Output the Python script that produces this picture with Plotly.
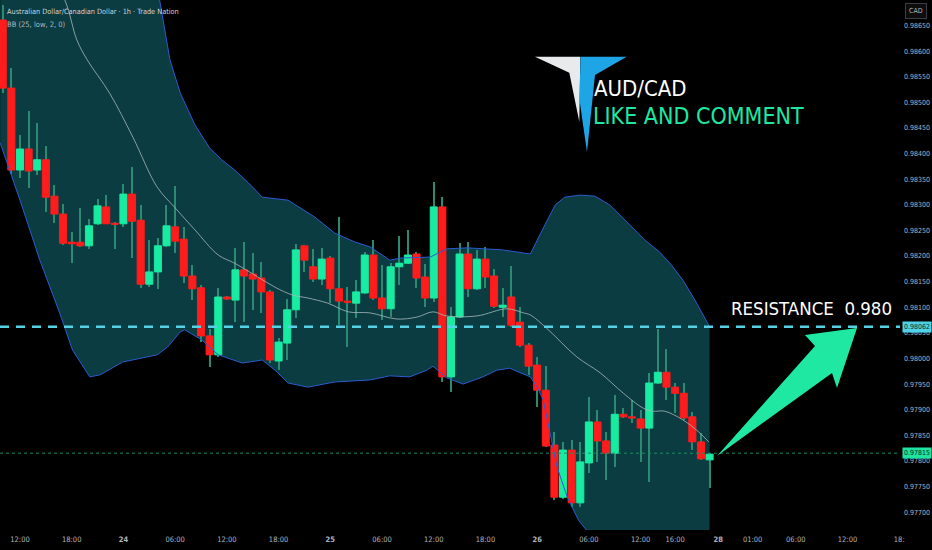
import plotly.graph_objects as go

# bar index = hours counted from the 23rd 00:00, weekend gap removed
hours = list(range(10, 93))
opens = [0.98661, 0.98528, 0.98368, 0.98409, 0.98368, 0.98388, 0.98317, 0.98282, 0.98227, 0.98227,
         0.98220, 0.98263, 0.98296, 0.98264, 0.98263, 0.98321, 0.98270, 0.98145, 0.98169, 0.98220,
         0.98257, 0.98233, 0.98161, 0.98138, 0.98044, 0.98007, 0.98120, 0.98114, 0.98173, 0.98165,
         0.98157, 0.98130, 0.97995, 0.98030, 0.98095, 0.98220, 0.98179, 0.98155, 0.98196, 0.98136,
         0.98112, 0.98108, 0.98128, 0.98202, 0.98118, 0.98097, 0.98179, 0.98186, 0.98204, 0.98159,
         0.98118, 0.98296, 0.97964, 0.98081, 0.98204, 0.98136, 0.98194, 0.98161, 0.98100, 0.98120,
         0.98071, 0.98026, 0.97987, 0.97938, 0.97831, 0.97729, 0.97821, 0.97718, 0.97796, 0.97876,
         0.97839, 0.97815, 0.97891, 0.97886, 0.97882, 0.97864, 0.97952, 0.97973, 0.97944, 0.97932,
         0.97886, 0.97837, 0.97802]
highs = [0.98690, 0.98567, 0.98436, 0.98483, 0.98460, 0.98415, 0.98339, 0.98302, 0.98247, 0.98294,
         0.98272, 0.98311, 0.98319, 0.98267, 0.98341, 0.98374, 0.98300, 0.98231, 0.98235, 0.98300,
         0.98337, 0.98257, 0.98182, 0.98143, 0.98057, 0.98138, 0.98122, 0.98216, 0.98227, 0.98206,
         0.98188, 0.98133, 0.98040, 0.98116, 0.98223, 0.98222, 0.98214, 0.98216, 0.98200, 0.98276,
         0.98140, 0.98153, 0.98208, 0.98231, 0.98182, 0.98186, 0.98239, 0.98251, 0.98208, 0.98184,
         0.98345, 0.98315, 0.98100, 0.98225, 0.98227, 0.98212, 0.98218, 0.98175, 0.98138, 0.98180,
         0.98100, 0.98030, 0.98003, 0.97985, 0.97856, 0.97837, 0.97841, 0.97837, 0.97925, 0.97899,
         0.97856, 0.97929, 0.97903, 0.97919, 0.97899, 0.97972, 0.98057, 0.98018, 0.97952, 0.97952,
         0.97895, 0.97854, 0.97815]
lows = [0.98518, 0.98360, 0.98352, 0.98333, 0.98358, 0.98286, 0.98264, 0.98222, 0.98186, 0.98218,
        0.98214, 0.98261, 0.98262, 0.98214, 0.98257, 0.98196, 0.98138, 0.98140, 0.98136, 0.98218,
        0.98206, 0.98147, 0.98114, 0.98032, 0.97983, 0.98003, 0.98114, 0.98071, 0.98071, 0.98095,
        0.98089, 0.97991, 0.97977, 0.97997, 0.98079, 0.98169, 0.98149, 0.98143, 0.98108, 0.98065,
        0.98022, 0.98079, 0.98126, 0.98114, 0.98075, 0.98081, 0.98143, 0.98184, 0.98138, 0.98100,
        0.98110, 0.97954, 0.97934, 0.98079, 0.98120, 0.98134, 0.98138, 0.98098, 0.98081, 0.98061,
        0.98022, 0.97968, 0.97905, 0.97827, 0.97724, 0.97725, 0.97710, 0.97710, 0.97776, 0.97798,
        0.97763, 0.97788, 0.97884, 0.97874, 0.97798, 0.97759, 0.97950, 0.97919, 0.97893, 0.97880,
        0.97821, 0.97802, 0.97747]
closes = [0.98528, 0.98368, 0.98409, 0.98366, 0.98388, 0.98315, 0.98282, 0.98225, 0.98224, 0.98220,
          0.98259, 0.98298, 0.98263, 0.98262, 0.98321, 0.98268, 0.98145, 0.98169, 0.98220, 0.98259,
          0.98229, 0.98161, 0.98136, 0.98044, 0.98007, 0.98120, 0.98116, 0.98173, 0.98161, 0.98155,
          0.98130, 0.97997, 0.98032, 0.98095, 0.98212, 0.98192, 0.98155, 0.98194, 0.98136, 0.98112,
          0.98110, 0.98130, 0.98202, 0.98118, 0.98097, 0.98179, 0.98186, 0.98202, 0.98157, 0.98118,
          0.98296, 0.97964, 0.98081, 0.98204, 0.98136, 0.98194, 0.98159, 0.98102, 0.98104, 0.98065,
          0.98026, 0.97985, 0.97938, 0.97829, 0.97729, 0.97821, 0.97718, 0.97798, 0.97876, 0.97839,
          0.97815, 0.97891, 0.97886, 0.97884, 0.97864, 0.97952, 0.97973, 0.97944, 0.97932, 0.97884,
          0.97837, 0.97804, 0.97813]

# Bollinger bands (25, low, 2)
bb_up_t = [9.7, 16, 22, 26, 28.2, 29.4, 30.6, 32.3, 34.0, 35.4, 36.9, 38.5, 40.1, 43.1, 46.2, 48.5,
           50.9, 52.6, 54.0, 54.9, 56.1, 59.6, 61.5, 63.9, 68.0, 71.2, 72.9, 74.1, 75.2, 77.0, 78.7,
           80.4, 82.2, 84.5, 86.2, 87.6, 88.9, 90.3, 92]
bb_up = [0.9905, 0.9893, 0.9881, 0.9874, 0.98700, 0.98583, 0.98518, 0.98456, 0.98411, 0.98388,
         0.98368, 0.98343, 0.98315, 0.98309, 0.98276, 0.98245, 0.98227, 0.98218, 0.98202, 0.98192,
         0.98196, 0.98198, 0.98214, 0.98216, 0.98212, 0.98204, 0.98261, 0.98300, 0.98315, 0.98319,
         0.98317, 0.98300, 0.98270, 0.98231, 0.98208, 0.98182, 0.98153, 0.98114, 0.98062]
bb_lo_t = [9.7, 12.0, 14.3, 16.6, 18.1, 20.1, 21.3, 23.9, 27.9, 29.1, 30.6, 31.1, 33.1, 35.0, 37.8,
           40.1, 41.6, 43.1, 45.4, 48.5, 52.6, 54.9, 57.2, 59.2, 59.9, 61.5, 63.4, 65.7, 67.3, 68.8,
           71.2, 72.0, 72.7, 73.5, 74.3, 75.5, 76.2, 76.8, 77.7, 80, 85, 92]
bb_lo = [0.98421, 0.98309, 0.98192, 0.98089, 0.98016, 0.97964, 0.97968, 0.97993, 0.98007, 0.98022,
         0.98052, 0.98056, 0.98036, 0.98007, 0.97991, 0.97997, 0.97977, 0.97952, 0.97944, 0.97954,
         0.97958, 0.97966, 0.97964, 0.97977, 0.97985, 0.97962, 0.97950, 0.97964, 0.97977, 0.97981,
         0.97964, 0.97944, 0.97919, 0.97854, 0.97788, 0.97729, 0.97704, 0.97684, 0.97665, 0.9764,
         0.9762, 0.9763]
bb_mid_t = [9.7, 14, 17.2, 18.6, 19.8, 22.4, 25.1, 27.9, 30.0, 32.3, 35.0, 36.9, 39.6, 41.6, 43.6,
            45.4, 47.7, 50.1, 52.6, 55.7, 58.1, 59.9, 61.5, 65.0, 68.5, 70.4, 71.2, 73.1, 76.6,
            79.3, 82.0, 84.3, 85.4, 86.8, 88.9, 90.5, 91.9]
bb_mid = [0.9890, 0.9880, 0.98700, 0.98622, 0.98583, 0.98518, 0.98432, 0.98335, 0.98294, 0.98251,
          0.98202, 0.98186, 0.98159, 0.98139, 0.98124, 0.98118, 0.98108, 0.98091, 0.98089, 0.98077,
          0.98081, 0.98091, 0.98083, 0.98083, 0.98097, 0.98089, 0.98085, 0.98059, 0.98003, 0.97972,
          0.97932, 0.97903, 0.97897, 0.97897, 0.97880, 0.97860, 0.97837]

time_ticks = [12, 18, 24, 30, 36, 42, 48, 54, 60, 66, 72, 78, 84, 88, 93, 97, 102, 108, 114]
time_labels = ["12:00", "18:00", "<b>24</b>", "06:00", "12:00", "18:00", "<b>25</b>", "06:00",
               "12:00", "18:00", "<b>26</b>", "06:00", "12:00", "16:00", "<b>28</b>", "01:00",
               "06:00", "12:00", "18:"]
price_ticks = [0.97700, 0.97750, 0.97800, 0.97850, 0.97900, 0.97950, 0.98000, 0.98050, 0.98100,
               0.98150, 0.98200, 0.98250, 0.98300, 0.98350, 0.98400, 0.98450, 0.98500, 0.98550,
               0.98600, 0.98650]

resistance = 0.98062
last_price = 0.97815

GREEN = "#18eba2"
RED = "#ff1c1c"
WICK = "#2a8a72"
NARROW = "Liberation Sans Narrow, DejaVu Sans Condensed, Liberation Sans, sans-serif"

PW, PH = 900, 530  # plot area in pixels


def px(x):
    return x / PW


def py(y):
    return 1 - y / PH


def poly(points):
    return "M " + " L ".join(f"{px(x):.5f},{py(y):.5f}" for x, y in points) + " Z"


fig = go.Figure()

# band fill as a shape under the candles (scatter fills would cover them)
band = list(zip(bb_up_t, bb_up)) + list(zip(bb_lo_t, bb_lo))[::-1]
band_path = "M " + " L ".join(f"{t},{p}" for t, p in band) + " Z"
fig.add_shape(type="path", xref="x", yref="y", path=band_path,
              fillcolor="#0a3c41", line_width=0, layer="below")

# wicks as thin bars (bar layer sits under the candle bodies)
fig.add_trace(go.Bar(x=hours, y=[h - l for h, l in zip(highs, lows)], base=lows, width=0.13,
                     marker=dict(color=WICK, line_width=0), hoverinfo="skip", showlegend=False))

body_top = [max(o, c) for o, c in zip(opens, closes)]
body_bot = [min(o, c) for o, c in zip(opens, closes)]
fig.add_trace(go.Candlestick(
    x=hours, open=opens, high=body_top, low=body_bot, close=closes,
    increasing=dict(line=dict(color=GREEN, width=1), fillcolor=GREEN),
    decreasing=dict(line=dict(color=RED, width=1), fillcolor=RED),
    whiskerwidth=0, hoverinfo="skip", showlegend=False,
))

fig.add_trace(go.Scatter(x=bb_up_t, y=bb_up, mode="lines", line=dict(color="#2b5bd0", width=1),
                         hoverinfo="skip", showlegend=False))
fig.add_trace(go.Scatter(x=bb_lo_t, y=bb_lo, mode="lines", line=dict(color="#2b5bd0", width=1),
                         hoverinfo="skip", showlegend=False))
fig.add_trace(go.Scatter(x=bb_mid_t, y=bb_mid, mode="lines", line=dict(color="#a7b9bb", width=0.8),
                         line_shape="spline", hoverinfo="skip", showlegend=False))

# resistance dashed line + last price dotted line
fig.add_shape(type="line", xref="paper", x0=0, x1=1, y0=resistance, y1=resistance,
              line=dict(color="#55d3e6", width=2.5, dash="9px,7px"), layer="above")
fig.add_shape(type="line", xref="paper", x0=0, x1=1, y0=last_price, y1=last_price,
              line=dict(color="#1c8f68", width=1, dash="dot"), layer="above")

# logo
fig.add_shape(type="path", xref="paper", yref="paper", line_width=0, fillcolor="#e8eaec",
              path=poly([(535, 56.7), (580.3, 56.7), (579.3, 121.7), (569.3, 72.7)]))
fig.add_shape(type="path", xref="paper", yref="paper", line_width=0, fillcolor="#1ea5e6",
              path=poly([(580.5, 56.7), (626.7, 56.7), (595, 75), (587, 152), (579.5, 100)]))

# arrow
fig.add_shape(type="path", xref="paper", yref="paper", line_width=0, fillcolor="#1ee8a2",
              path=poly([(717, 456), (815, 346), (805, 335), (857, 328), (837, 388), (832, 373)]))

notes = [
    dict(x=px(5), y=py(12), text="Australian Dollar/Canadian Dollar · 1h · Trade Nation",
         font=dict(size=7.3, color="#d1d4dc", family=NARROW), xanchor="left"),
    dict(x=px(5), y=py(25), text="BB (25, low, 2, 0)",
         font=dict(size=7.5, color="#b2b5be", family=NARROW), xanchor="left"),
    dict(x=px(592), y=py(89), text="AUD/CAD",
         font=dict(size=22, color="#ffffff", family=NARROW), xanchor="left"),
    dict(x=px(591), y=py(116), text="LIKE AND COMMENT",
         font=dict(size=23, color="#1ee8a2", family=NARROW), xanchor="left"),
    dict(x=px(811), y=py(308), text="RESISTANCE\u00a0\u00a00.980",
         font=dict(size=18.5, color="#ffffff", family=NARROW), xanchor="center"),
    dict(x=px(916), y=py(11), text="CAD", font=dict(size=7, color="#b2b5be", family=NARROW),
         bgcolor="#0d0d0d", bordercolor="#3a3d45", borderwidth=1, borderpad=3, xanchor="center"),
    dict(x=px(902), y=resistance, yref="y", text="0.98062",
         font=dict(size=7, color="#0b2a33", family=NARROW), bgcolor="#4fd3e6",
         borderpad=1, xanchor="left"),
    dict(x=px(902), y=last_price, yref="y", text="0.97815",
         font=dict(size=7, color="#0b2a22", family=NARROW), bgcolor="#1fe3a0",
         borderpad=1, xanchor="left"),
]
for n in notes:
    n.setdefault("xref", "paper")
    n.setdefault("yref", "paper")
    n.setdefault("yanchor", "middle")
    fig.add_annotation(showarrow=False, **n)

fig.update_layout(
    width=932, height=550,
    margin=dict(l=0, r=32, t=0, b=20),
    paper_bgcolor="#000000", plot_bgcolor="#000000",
    boxgap=0.18, boxgroupgap=0, bargap=0,
    xaxis=dict(range=[9.68, 114.09], tickvals=time_ticks, ticktext=time_labels,
               showgrid=False, zeroline=False, ticks="", rangeslider=dict(visible=False),
               ticklabelstandoff=3, tickfont=dict(size=7.5, color="#b2b5be", family=NARROW)),
    yaxis=dict(range=[0.97665, 0.98700], side="right", tickvals=price_ticks, tickformat=".5f",
               showgrid=False, zeroline=False, ticks="", ticklabelstandoff=3,
               tickfont=dict(size=7, color="#b2b5be", family=NARROW)),
)

fig.write_html("out.html", config={"displayModeBar": False},
               post_script="document.body.style.margin='0';document.body.style.background='#000';")
